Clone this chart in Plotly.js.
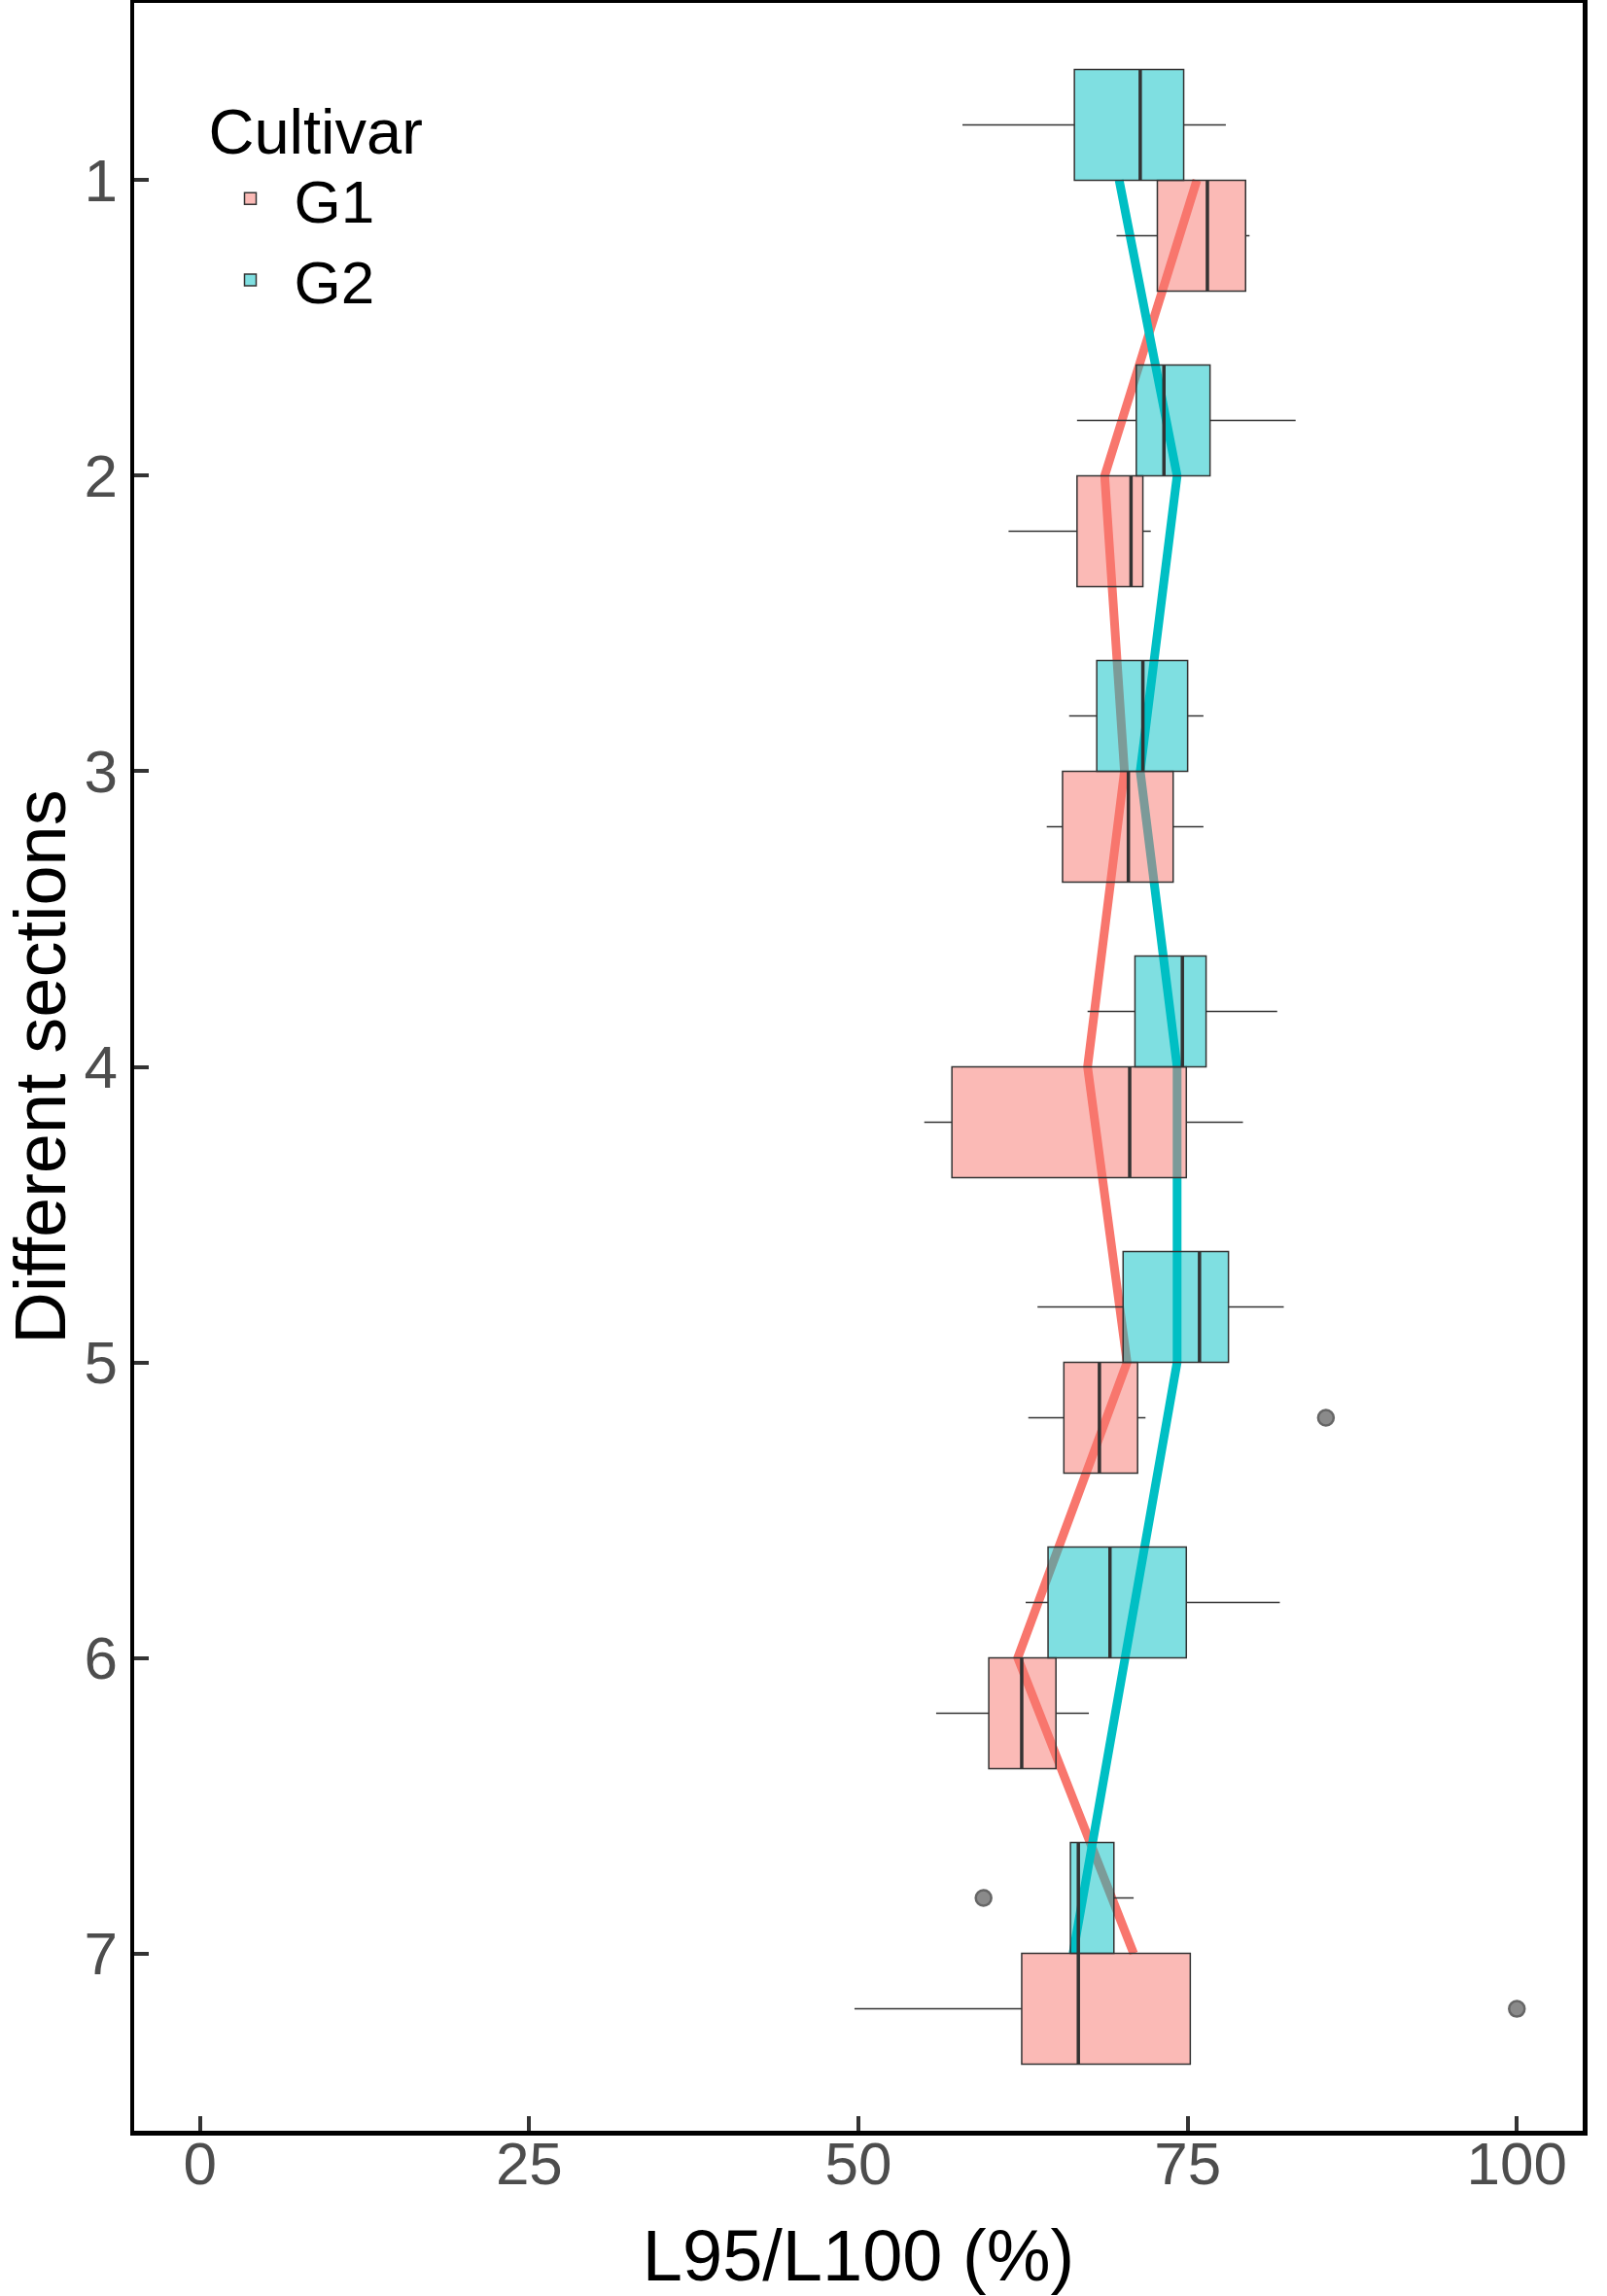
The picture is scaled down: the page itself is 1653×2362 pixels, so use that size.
<!DOCTYPE html>
<html>
<head>
<meta charset="utf-8">
<script src="https://cdn.plot.ly/plotly-3.0.1.min.js"></script>
<style>
  body { margin: 0; background: #fff; }
  #plot { width: 1653px; height: 2362px; }
</style>
</head>
<body>
<div id="plot"></div>
<script>
// sections on the y axis
var sections = [1, 2, 3, 4, 5, 6, 7];

// G1 box stats
var g1Low    = [69.6, 61.4, 64.3, 55.0, 62.9, 55.9, 49.7];
var g1Q1     = [72.7, 66.6, 65.5, 57.1, 65.6, 59.9, 62.4];
var g1Median = [76.5, 70.7, 70.5, 70.6, 68.3, 62.4, 66.7];
var g1Q3     = [79.4, 71.6, 73.9, 74.9, 71.2, 65.0, 75.2];
var g1High   = [79.7, 72.2, 76.2, 79.2, 71.8, 67.5, 75.2];
var g1Mean   = [75.7, 68.7, 70.2, 67.4, 70.4, 62.1, 70.9];

// G2 box stats
var g2Low    = [57.9, 66.6, 66.0, 67.4, 63.6, 62.7, 66.1];
var g2Q1     = [66.4, 71.1, 68.1, 71.0, 70.1, 64.4, 66.1];
var g2Median = [71.4, 73.2, 71.6, 74.6, 75.9, 69.1, 66.7];
var g2Q3     = [74.7, 76.7, 75.0, 76.4, 78.1, 74.9, 69.4];
var g2High   = [77.9, 83.2, 76.2, 81.8, 82.3, 82.0, 70.9];
var g2Mean   = [69.8, 74.2, 71.4, 74.2, 74.2, 70.2, 66.3];

// outliers
var g1OutSection = [5, 7];
var g1OutValue   = [85.5, 100.0];
var g2OutSection = [7];
var g2OutValue   = [59.5];

var tickVals = [0, 25, 50, 75, 100];

var red = '#F8766D', cyan = '#00BFC4';
var dodge = 0.1875, boxW = 0.375;

function pos(arr, off) { return arr.map(function (s) { return s + off; }); }

function medianSegs(med, positions) {
  var x = [], y = [];
  for (var i = 0; i < med.length; i++) {
    x.push(med[i], med[i], null);
    y.push(positions[i] - boxW / 2, positions[i] + boxW / 2, null);
  }
  return { x: x, y: y };
}

var g1Pos = pos(sections, dodge);
var g2Pos = pos(sections, -dodge);
var m1 = medianSegs(g1Median, g1Pos);
var m2 = medianSegs(g2Median, g2Pos);

var boxLine = { color: '#333333', width: 1.5 };

var data = [
  // mean lines (under the boxes)
  { type: 'scatter', mode: 'lines', x: g1Mean, y: sections, xaxis: 'x', yaxis: 'y',
    line: { color: red, width: 9 }, showlegend: false, hoverinfo: 'skip' },
  { type: 'scatter', mode: 'lines', x: g2Mean, y: sections, xaxis: 'x', yaxis: 'y',
    line: { color: cyan, width: 9 }, showlegend: false, hoverinfo: 'skip' },

  // boxes on the overlaying axis so they sit on top of the lines
  { type: 'box', name: 'G1', orientation: 'h', y: g1Pos, xaxis: 'x', yaxis: 'y2',
    lowerfence: g1Low, q1: g1Q1, median: g1Median, q3: g1Q3, upperfence: g1High,
    width: boxW, whiskerwidth: 0, boxpoints: false,
    fillcolor: 'rgba(248,118,109,0.5)', line: boxLine, hoverinfo: 'skip' },
  { type: 'box', name: 'G2', orientation: 'h', y: g2Pos, xaxis: 'x', yaxis: 'y2',
    lowerfence: g2Low, q1: g2Q1, median: g2Median, q3: g2Q3, upperfence: g2High,
    width: boxW, whiskerwidth: 0, boxpoints: false,
    fillcolor: 'rgba(0,191,196,0.5)', line: boxLine, hoverinfo: 'skip' },

  // thicker median bars
  { type: 'scatter', mode: 'lines', x: m1.x, y: m1.y, xaxis: 'x', yaxis: 'y2',
    line: { color: '#333333', width: 3.5 }, showlegend: false, hoverinfo: 'skip' },
  { type: 'scatter', mode: 'lines', x: m2.x, y: m2.y, xaxis: 'x', yaxis: 'y2',
    line: { color: '#333333', width: 3.5 }, showlegend: false, hoverinfo: 'skip' },

  // outliers
  { type: 'scatter', mode: 'markers', x: g1OutValue, y: pos(g1OutSection, dodge),
    xaxis: 'x', yaxis: 'y2', showlegend: false, hoverinfo: 'skip',
    marker: { size: 16, color: '#8a8a8a', line: { color: '#666666', width: 2.5 } } },
  { type: 'scatter', mode: 'markers', x: g2OutValue, y: pos(g2OutSection, -dodge),
    xaxis: 'x', yaxis: 'y2', showlegend: false, hoverinfo: 'skip',
    marker: { size: 16, color: '#8a8a8a', line: { color: '#666666', width: 2.5 } } }
];

var axisCommon = {
  showline: true, linecolor: '#000', linewidth: 4.5, mirror: true,
  showgrid: false, zeroline: false,
  ticks: 'inside', ticklen: 15, tickwidth: 4, tickcolor: '#333333',
  tickfont: { family: 'Liberation Sans, Arial, sans-serif', size: 62, color: '#4D4D4D' }
};

var layout = {
  width: 1653, height: 2362,
  margin: { l: 138, r: 25, t: 3, b: 170 },
  paper_bgcolor: '#fff', plot_bgcolor: '#fff',
  font: { family: 'Liberation Sans, Arial, sans-serif', color: '#000' },
  boxmode: 'overlay',
  xaxis: Object.assign({}, axisCommon, {
    range: [-5, 105], tickvals: tickVals, ticktext: tickVals.map(String),
    automargin: false, ticklabelstandoff: -24,
    title: { text: 'L95/L100 (%)', font: { size: 74, color: '#000' }, standoff: 42 }
  }),
  yaxis: Object.assign({}, axisCommon, {
    range: [7.6, 0.4], tickvals: sections, ticktext: sections.map(String),
    automargin: false,
    title: { text: 'Different sections', font: { size: 74, color: '#000' }, standoff: 1 }
  }),
  yaxis2: { overlaying: 'y', range: [7.6, 0.4], visible: false, anchor: 'x' },
  showlegend: true,
  legend: {
    x: 0.05, y: 0.968, xanchor: 'left', yanchor: 'top',
    bgcolor: 'rgba(0,0,0,0)', itemwidth: 80,
    title: { text: 'Cultivar', font: { size: 65, color: '#000' } },
    font: { size: 62, color: '#000' },
    traceorder: 'normal'
  }
};

Plotly.newPlot('plot', data, layout, { staticPlot: true });
</script>
</body>
</html>
